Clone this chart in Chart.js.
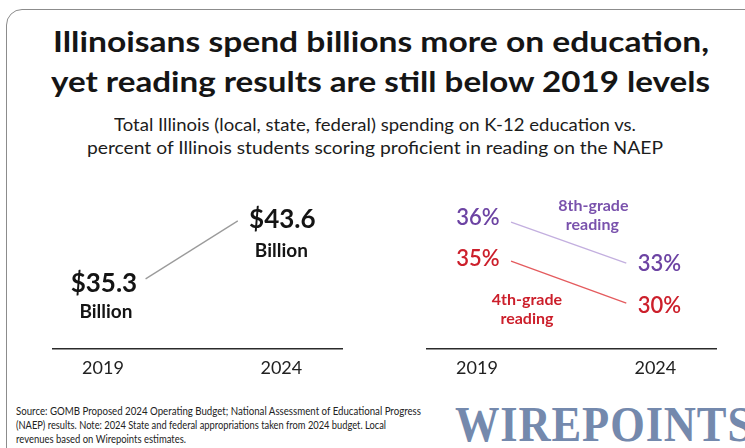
<!DOCTYPE html>
<html>
<head>
<meta charset="utf-8">
<script src="https://cdn.jsdelivr.net/npm/chart.js@4.4.1/dist/chart.umd.min.js"></script>
<style>
  html, body { margin: 0; padding: 0; background: #fff; }
  body { width: 745px; height: 448px; position: relative; overflow: hidden; font-family: Lato, "Open Sans", sans-serif; color: #151515; }
  .card { position: absolute; left: 6px; top: 9px; width: 820px; height: 470px; border: 1px solid #8c8c8c; border-radius: 16px; box-sizing: border-box; }
  .fit { position: absolute; white-space: nowrap; line-height: 1; transform-origin: left top; }
  .title { font-size: 29px; font-weight: 700; }
  .sub { font-size: 17px; font-weight: 400; color: #1c1c1c; }
  .note { font-size: 11.5px; color: #222; }
  .logo { font-family: "Liberation Serif", "DejaVu Serif", serif; font-weight: 700; font-size: 50px; color: #7489ad; letter-spacing: 1px; }
  canvas { position: absolute; }
</style>
</head>
<body>
<div class="card"></div>
<div class="fit title" data-x="53" data-w="656" style="top:26px">Illinoisans spend billions more on education,</div>
<div class="fit title" data-x="51" data-w="659" style="top:66px">yet reading results are still below 2019 levels</div>
<div class="fit sub" data-x="114" data-w="522" style="top:116px">Total Illinois (local, state, federal) spending on K-12 education vs.</div>
<div class="fit sub" data-x="87" data-w="576" style="top:139px">percent of Illinois students scoring proficient in reading on the NAEP</div>
<div class="fit note" data-x="16" data-w="405" style="top:405px">Source: GOMB Proposed 2024 Operating Budget; National Assessment of Educational Progress</div>
<div class="fit note" data-x="16" data-w="370" style="top:419px">(NAEP) results. Note: 2024 State and federal appropriations taken from 2024 budget. Local</div>
<div class="fit note" data-x="16" data-w="170" style="top:433px">revenues based on Wirepoints estimates.</div>
<div class="fit logo" data-x="455" data-w="298" style="top:399px">WIREPOINTS</div>

<canvas id="spending-chart" width="320" height="210" style="left:40px;top:170px"></canvas>
<canvas id="reading-chart" width="320" height="210" style="left:414px;top:170px"></canvas>

<script>
const years = [2019, 2024];
const spendingBillions = [35.3, 43.6];
const grade8Reading = [36, 33];
const grade4Reading = [35, 30];

const purple = '#6c43a3';
const red = '#cc1f2b';

// squeeze each text line to the width it has in the original layout
document.querySelectorAll('.fit').forEach((el) => {
  el.style.left = el.dataset.x + 'px';
  const w = el.getBoundingClientRect().width;
  el.style.transform = `scaleX(${el.dataset.w / w})`;
});

const slopeLines = {
  id: 'slopeLines',
  afterDatasetsDraw(chart) {
    const { ctx } = chart;
    chart.data.datasets.forEach((ds, i) => {
      const pts = chart.getDatasetMeta(i).data;
      const [a, b] = pts;
      const [t0, t1] = ds.trim;
      ctx.save();
      ctx.strokeStyle = ds.lineColor;
      ctx.lineWidth = ds.lineWidth;
      ctx.beginPath();
      ctx.moveTo(a.x + (b.x - a.x) * t0, a.y + (b.y - a.y) * t0);
      ctx.lineTo(a.x + (b.x - a.x) * t1, a.y + (b.y - a.y) * t1);
      ctx.stroke();
      ctx.textAlign = 'center';
      ctx.textBaseline = 'middle';
      (ds.textLabels || []).forEach((l) => {
        const p = pts[l.at];
        ctx.font = l.font;
        ctx.fillStyle = l.color;
        ctx.fillText(l.text, p.x + l.dx, p.y + l.dy);
      });
      ctx.restore();
    });
  }
};

const points = (values) => years.map((x, i) => ({ x, y: values[i] }));

function slopeChart(id, datasets, yScales) {
  return new Chart(document.getElementById(id), {
    type: 'line',
    data: { datasets },
    plugins: [slopeLines],
    options: {
      responsive: false,
      animation: false,
      events: [],
      layout: { padding: { left: 13, right: 18, top: 10, bottom: 0 } },
      plugins: { legend: { display: false }, tooltip: { enabled: false } },
      scales: {
        x: {
          type: 'linear', min: 2017.6, max: 2025.7,
          afterBuildTicks: (scale) => { scale.ticks = years.map((value) => ({ value })); },
          afterFit: (scale) => { scale.height = 31; },
          grid: { display: false, drawTicks: false },
          border: { display: true, color: '#2b2b2b', width: 1.5 },
          ticks: { padding: 8, color: '#222', font: { family: 'Lato', size: 18 }, callback: (v) => String(v), maxRotation: 0 }
        },
        ...yScales
      }
    }
  });
}

const billions = (v) => '$' + v.toFixed(1);
const pct = (v) => v + '%';

slopeChart('spending-chart', [{
  data: points(spendingBillions),
  showLine: false, pointRadius: 0,
  trim: [0.239, 0.756], lineColor: '#9b9b9b', lineWidth: 1.3,
  textLabels: [
    { at: 0, text: billions(spendingBillions[0]), dx: 1, dy: -22, font: '700 26px Lato', color: '#141414' },
    { at: 0, text: 'Billion', dx: 3, dy: 6, font: '700 19px Lato', color: '#141414' },
    { at: 1, text: billions(spendingBillions[1]), dx: 1, dy: 26, font: '700 26px Lato', color: '#141414' },
    { at: 1, text: 'Billion', dx: 0, dy: 57, font: '700 19px Lato', color: '#141414' }
  ]
}], {
  y: { display: false, min: 32.1, max: 44.6 }
});

slopeChart('reading-chart', [{
  data: points(grade8Reading),
  yAxisID: 'y8',
  showLine: false, pointRadius: 0,
  trim: [0.191, 0.837], lineColor: '#c3afdf', lineWidth: 1.3,
  textLabels: [
    { at: 0, text: pct(grade8Reading[0]), dx: 1, dy: 8, font: '600 22px Lato', color: purple },
    { at: 1, text: pct(grade8Reading[1]), dx: 4, dy: -9, font: '600 22px Lato', color: purple },
    { at: 1, text: '8th-grade', dx: -62, dy: -68, font: '700 16px Lato', color: '#7a52ad' },
    { at: 1, text: 'reading', dx: -63, dy: -49, font: '700 16px Lato', color: '#7a52ad' }
  ]
}, {
  data: points(grade4Reading),
  yAxisID: 'y4',
  showLine: false, pointRadius: 0,
  trim: [0.191, 0.837], lineColor: '#e45b5e', lineWidth: 1.3,
  textLabels: [
    { at: 0, text: pct(grade4Reading[0]), dx: 1, dy: 10, font: '600 22px Lato', color: red },
    { at: 1, text: pct(grade4Reading[1]), dx: 4, dy: -8, font: '600 22px Lato', color: red },
    { at: 0, text: '4th-grade', dx: 50, dy: 51, font: '700 16px Lato', color: red },
    { at: 0, text: 'reading', dx: 50, dy: 70, font: '700 16px Lato', color: red }
  ]
}], {
  y8: { display: false, min: 29.42, max: 37.42 },
  y4: { display: false, min: 27.28, max: 40.28 }
});
</script>
</body>
</html>
